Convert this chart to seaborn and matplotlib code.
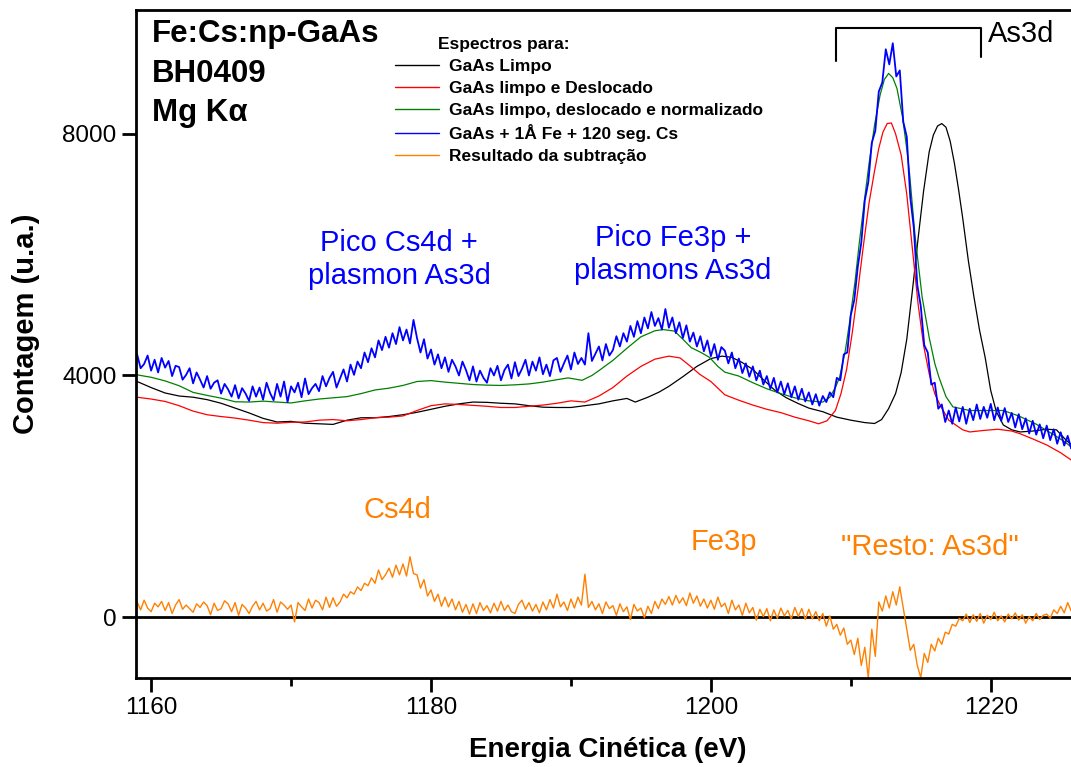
import numpy as np
import pandas as pd
import matplotlib
matplotlib.use("Agg")
import matplotlib.pyplot as plt
import seaborn as sns

# smooth spectra
e_black = [1159, 1160, 1161, 1162, 1163, 1164, 1165, 1166, 1167, 1168, 1169, 1170, 1171, 1172, 1173,
           1174, 1175, 1176, 1177, 1178, 1179, 1180, 1181, 1182, 1183, 1184, 1185, 1186, 1187, 1188,
           1189, 1190, 1191, 1192, 1193, 1194, 1194.6, 1195.5, 1196.3, 1197, 1198, 1199, 1200, 1200.8,
           1201.5, 1202.2, 1203, 1203.8, 1204.6, 1205.4, 1206.2, 1207, 1208, 1209, 1210, 1211, 1211.7,
           1212.2, 1212.7, 1213.2, 1213.6, 1214, 1214.4, 1214.8, 1215.2, 1215.6, 1215.9, 1216.2, 1216.5,
           1216.8, 1217.1, 1217.4, 1217.7, 1218, 1218.4, 1218.8, 1219.2, 1219.6, 1220, 1220.4, 1220.9,
           1221.5, 1222.1, 1223, 1224, 1224.7, 1225.3, 1226]
black = [3900, 3800, 3710, 3660, 3640, 3600, 3540, 3460, 3380, 3290, 3230, 3240, 3210, 3200, 3190,
         3260, 3300, 3300, 3320, 3350, 3390, 3440, 3490, 3530, 3560, 3555, 3540, 3530, 3500, 3475,
         3470, 3470, 3500, 3530, 3580, 3620, 3560, 3640, 3725, 3820, 3980, 4150, 4280, 4320,
         4300, 4220, 4100, 3920, 3750, 3630, 3540, 3460, 3400, 3310, 3260, 3220, 3205,
         3270, 3450, 3700, 4050, 4600, 5400, 6250, 7050, 7700, 7980, 8130, 8170,
         8110, 7880, 7520, 7080, 6600, 5900, 5300, 4750, 4300, 3750, 3400, 3180,
         3100, 3065, 3080, 3110, 3100, 2950, 2800]

e_red = [1159, 1160, 1161, 1162, 1163, 1164, 1165, 1166, 1167, 1168, 1169, 1170, 1171, 1172, 1173,
         1174, 1175, 1176, 1177, 1178, 1179, 1180, 1181, 1182, 1183, 1184, 1185, 1186, 1187, 1188,
         1189, 1190, 1191, 1192, 1193, 1194, 1195, 1196, 1197, 1197.8, 1198.5, 1199.2, 1200, 1201,
         1202, 1203, 1204, 1205, 1206, 1207, 1207.7, 1208.3, 1208.9, 1209.3, 1209.7, 1210.1, 1210.5,
         1210.9, 1211.3, 1211.7, 1212.0, 1212.3, 1212.6, 1212.9, 1213.2, 1213.6, 1214, 1214.4, 1214.8,
         1215.2, 1215.6, 1216, 1216.4, 1217, 1218, 1218.5, 1219.5, 1220.5, 1221.5, 1222.1, 1223, 1224,
         1225, 1226]
red = [3640, 3610, 3570, 3500, 3410, 3350, 3320, 3295, 3260, 3220, 3210, 3225, 3230, 3260, 3270,
       3250, 3270, 3300, 3310, 3330, 3420, 3500, 3530, 3520, 3505, 3490, 3470, 3470, 3490, 3510,
       3540, 3580, 3560, 3660, 3800, 3990, 4150, 4270, 4320, 4290, 4160, 4020, 3900, 3680,
       3590, 3510, 3440, 3385, 3310, 3250, 3200, 3250, 3420, 3700, 4100, 4700, 5400,
       6150, 6850, 7390, 7760, 8030, 8170, 8180, 8000, 7650, 7000, 6100, 5200,
       4500, 4030, 3700, 3500, 3260, 3100, 3065, 3090, 3110, 3080, 3035, 2950, 2850,
       2720, 2560]

e_green = [1159, 1160, 1161, 1162, 1163, 1164, 1165, 1166, 1167, 1168, 1169, 1170, 1171, 1172, 1173,
           1174, 1175, 1176, 1177, 1178, 1179, 1180, 1181, 1182, 1183, 1184, 1185, 1186, 1187, 1188,
           1189, 1189.8, 1190.8, 1191.5, 1192, 1193, 1194, 1195, 1196, 1196.6, 1197.4, 1198, 1198.6,
           1199.3, 1199.9, 1200.5, 1201, 1202, 1203, 1204, 1205, 1206, 1207, 1208, 1208.5, 1208.9,
           1209.2, 1209.6, 1209.9, 1210.3, 1210.6, 1211, 1211.3, 1211.7, 1212.1, 1212.4, 1212.7, 1213,
           1213.3, 1213.7, 1214, 1214.2, 1214.6, 1215.1, 1215.6, 1216, 1216.3, 1216.8, 1217.3, 1218.5,
           1219.5, 1220.9, 1222, 1223.2, 1224.5, 1225.3, 1226]
green = [4010, 3970, 3910, 3830, 3720, 3670, 3625, 3565, 3560, 3575, 3560, 3545, 3580, 3610, 3630,
         3650, 3700, 3760, 3790, 3835, 3900, 3915, 3890, 3870, 3850, 3840, 3835, 3845, 3860, 3890,
         3930, 3960, 3920, 4000, 4080, 4250, 4450, 4640, 4740, 4760, 4735, 4600, 4460,
         4380, 4300, 4150, 4055, 3990, 3880, 3780, 3700, 3630, 3580, 3560, 3640, 3800,
         3970, 4400, 4860, 5550, 6180, 6950, 7500, 8150, 8650, 8900, 9000, 8930,
         8750, 8270, 7750, 7340, 6290, 5295, 4630, 4200, 3970, 3650, 3480, 3420,
         3420, 3420, 3330, 3200, 3020, 2900, 2770]

# noisy spectra on a 0.25 eV grid, 1159 -> 1226
blue = [4350, 4120, 4190, 4330, 4080, 4260, 4050, 4290, 4130, 4240, 3990, 4160, 4140, 3930, 4010, 4120,
        3870, 4050, 3930, 3800, 3990, 3780, 3880, 3920, 3700, 3860, 3770, 3650, 3840, 3620, 3790, 3700,
        3580, 3820, 3650, 3800, 3600, 3880, 3710, 3590, 3860, 3650, 3900, 3560, 3820, 3720, 3880, 3640,
        3950, 3690, 3790, 3860, 3740, 3990, 3820, 3960, 4060, 3800, 3950, 4100, 3900, 4180, 4010, 4230,
        4120, 4380, 4220, 4450, 4300, 4580, 4420, 4640, 4460, 4700, 4520, 4800, 4580, 4760, 4530, 4920,
        4620, 4380, 4600, 4280, 4430, 4180, 4350, 4120, 4300, 4060, 4260, 4150, 4000, 4230, 4090, 3920,
        4150, 3900, 4080, 3960, 3880, 4120, 4000, 4160, 3920, 4090, 4180, 3950, 4220, 3990, 4110, 4260,
        4000, 4230, 4080, 4300, 4020, 4180, 3990, 4250, 4290, 4060, 4200, 4330, 4100, 4380, 4190, 4290,
        4180, 4700, 4240, 4360, 4480, 4250, 4520, 4330, 4420, 4650, 4480, 4700, 4560, 4820, 4640, 4900,
        4700, 4960, 4780, 5050, 4820, 4950, 4760, 5100, 4790, 4960, 4700, 4880, 4620, 4830, 4560, 4710,
        4480, 4650, 4400, 4580, 4320, 4520, 4260, 4470, 4410, 4200, 4380, 4120, 4280, 4040, 4200, 3980,
        4150, 3920, 4080, 3850, 3990, 3780, 3960, 3720, 3900, 3690, 3870, 3640, 3820, 3600, 3780, 3570,
        3720, 3520, 3690, 3500, 3660, 3560, 3720, 3640, 3960, 3920, 4350, 4380, 5000, 5250, 5800, 6200,
        6900, 7200, 7850, 8050, 8700, 8850, 9400, 9150, 9500, 8950, 9050, 8200, 7950, 6950, 6450, 5500,
        5150, 4500, 4380, 3850, 3880, 3450, 3520, 3230, 3420, 3200, 3470, 3240, 3480, 3200, 3450, 3260,
        3520, 3280, 3480, 3300, 3530, 3260, 3470, 3250, 3460, 3230, 3380, 3140, 3360, 3110, 3290, 3040,
        3250, 3020, 3190, 2960, 3170, 2930, 3110, 2870, 3060, 2840, 3000, 2790, 2900]
orange = [250, 120, 280, 150, 90, 230, 170, 260, 110, 240, 60, 200, 290, 130, 200, 140,
          80, 220, 160, 250, 190, 40, 230, 110, 140, 270, 220, 90, 240, 30, 210, 150,
          60, 180, 260, 120, 230, 100, 140, 290, 80, 250, 200, 130, 200, -80, 240, 170,
          110, 300, 150, 280, 240, 120, 330, 160, 320, 180, 250, 380, 320, 420, 380, 500,
          440, 560, 520, 650, 560, 780, 620, 700, 810, 660, 860, 700, 880, 680, 1000, 720,
          700, 480, 620, 350, 450, 260, 380, 180, 330, 170, 300, 120, 260, 80, 210, 50,
          220, 60, 240, 110, 190, 70, 230, 100, 260, 110, 200, 90, 60, 210, 280, 130,
          240, 100, 210, 70, 250, 120, 290, 150, 380, 170, 250, 110, 300, 150, 330, 200,
          710, 160, 260, 120, 220, 60, 250, 140, 190, 30, 220, 90, 170, -40, 210, 100,
          150, -10, 180, 60, 260, 140, 300, 210, 340, 200, 360, 230, 320, 190, 400, 230,
          350, 180, 300, 150, 280, 130, 330, 170, 230, 60, 280, 120, 200, 30, 230, 70,
          160, -50, 130, 10, 140, -60, 120, -20, 150, 20, 110, -30, 160, 10, 140, -40,
          130, -30, 90, -60, 60, -150, 20, -200, -120, -300, -180, -450, -380, -620, -350, -800,
          -500, -1000, -200, -650, 250, 100, 350, 150, 420, 200, 500, 150, -200, -550, -450, -800,
          -1000, -600, -750, -450, -560, -350, -450, -250, -280, -120, -150, -20, -60, 50, -90, 40,
          -70, 60, -100, 30, -40, 80, -60, 20, -80, 50, -30, 70, -50, 40, -100, 10,
          -60, 60, -40, 30, 50, -20, 120, 60, 180, 70, 240, 100, 200]
e_noisy = np.linspace(1159, 1226, len(blue))

labels = ["GaAs Limpo", "GaAs limpo e Deslocado", "GaAs limpo, deslocado e normalizado",
          "GaAs + 1Å Fe + 120 seg. Cs", "Resultado da subtração"]
colors = ["#000000", "#ff0000", "#008000", "#0000ff", "#ff8000"]

sns.set_style("ticks")
plt.rcParams["font.family"] = ["Liberation Sans", "DejaVu Sans"]
plt.rcParams.update({"text.color": "black", "axes.labelcolor": "black",
                     "xtick.color": "black", "ytick.color": "black"})

fig = plt.figure(figsize=(10.71, 7.67), dpi=100)
ax = fig.add_axes([136 / 1071, 1 - 678 / 767, 938 / 1071, 668 / 767])

series = [(e_black, black, 0.9), (e_red, red, 0.9), (e_green, green, 0.9),
          (e_noisy, blue, 1.3), (e_noisy, orange, 1.0)]
for (xs, ys, lw), lab, col in zip(series, labels, colors):
    df = pd.DataFrame({"E": xs, "I": ys})
    sns.lineplot(data=df, x="E", y="I", ax=ax, color=col, lw=lw, label=lab,
                 estimator=None, sort=False)

ax.axhline(0, color="black", lw=2, zorder=1)

ax.set_xlim(1158.92, 1225.95)
ax.set_ylim(-1008, 10050)
ax.set_xticks([1160, 1180, 1200, 1220])
ax.set_xticks([1170, 1190, 1210], minor=True)
ax.set_yticks([0, 4000, 8000])
ax.tick_params(axis="both", which="major", direction="out", length=10, width=2, labelsize=17.5, pad=4)
ax.tick_params(axis="x", which="minor", direction="out", length=6, width=2)
for s in ax.spines.values():
    s.set_linewidth(2)
    s.set_color("black")

ax.set_xlabel("Energia Cinética (eV)", fontsize=20, fontweight="bold")
ax.set_ylabel("Contagem (u.a.)", fontsize=21, fontweight="bold")
ax.xaxis.set_label_coords(0.503, -0.088)
ax.yaxis.set_label_coords(-0.102, 0.53)

leg = ax.legend(loc="upper left", bbox_to_anchor=(0.276, 0.9265), frameon=False,
                prop={"weight": "bold", "size": 12.5}, handlelength=2.55, handletextpad=0.56,
                labelspacing=0.38, borderpad=0, borderaxespad=0)
for h in leg.get_lines():
    h.set_linewidth(1)
ax.text(1180.5, 9472, "Espectros para:", fontsize=12.5, fontweight="bold", va="center", ha="left")

for txt, yv in [("Fe:Cs:np-GaAs", 9654), ("BH0409", 8992), ("Mg Kα", 8348)]:
    ax.text(1160.07, yv, txt, fontsize=22.5, fontweight="bold", va="center", ha="left")

ax.text(1177.71, 5918, "Pico Cs4d +\nplasmon As3d", color="#0000ff", fontsize=21,
        ha="center", va="center", linespacing=1.2)
ax.text(1197.28, 6000, "Pico Fe3p +\nplasmons As3d", color="#0000ff", fontsize=21,
        ha="center", va="center", linespacing=1.2)
ax.text(1177.63, 1769, "Cs4d", color="#ff8000", fontsize=21, ha="center", va="center")
ax.text(1200.93, 1240, "Fe3p", color="#ff8000", fontsize=21, ha="center", va="center")
ax.text(1215.63, 1157, "\"Resto: As3d\"", color="#ff8000", fontsize=21, ha="center", va="center")

# As3d bracket
ax.plot([1208.96, 1208.96, 1219.28, 1219.28], [9207, 9753, 9753, 9273], color="black", lw=1.5)
ax.text(1219.78, 9654, "As3d", fontsize=21, ha="left", va="center")

fig.savefig("out.png", dpi=100)
plt.close(fig)
